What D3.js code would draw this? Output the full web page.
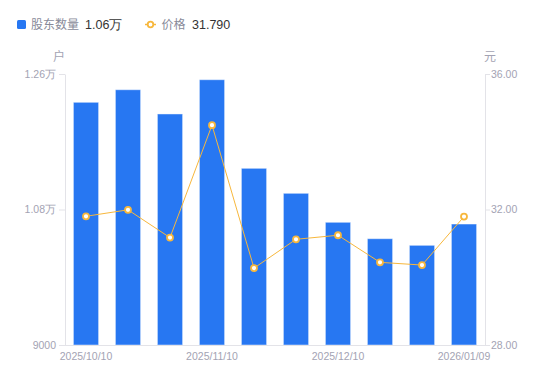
<!DOCTYPE html>
<html><head><meta charset="utf-8">
<script src="https://cdn.jsdelivr.net/npm/d3@7"></script>
<style>body{margin:0;background:#fff;}svg{display:block;font-family:"Noto Sans CJK SC","Liberation Sans",Arial,sans-serif;}</style>
</head><body><svg id="c" width="550" height="381"></svg>
<script>
const categories = ["2025/10/10","2025/10/20","2025/10/31","2025/11/10","2025/11/20","2025/11/28","2025/12/10","2025/12/19","2025/12/31","2026/01/09"];
const holders = [12224,12391,12069,12524,11347,11015,10630,10412,10324,10607];
const prices = [31.80,31.99,31.17,34.49,30.27,31.12,31.24,30.44,30.36,31.79];
const leftTicks = [9000,10800,12600];
const rightTicks = [28,32,36];
const shownLabels = ["2025/10/10","2025/11/10","2025/12/10","2026/01/09"];

const svg = d3.select("#c");
const L=65, R=485, T=74, B=345;
const x = d3.scaleBand().domain(categories).range([L,R]).paddingInner(0.4).paddingOuter(0.2);
const yL = d3.scaleLinear().domain([9000,12600]).range([B,T]);
const yR = d3.scaleLinear().domain([28,36]).range([B,T]);
const axisCol="#e3e3e8", txtCol="#a3a3b3";
const latin = "'Liberation Sans',Arial,sans-serif";

// bars
svg.append("g").selectAll("rect").data(holders).join("rect")
  .attr("x",(d,i)=>x(categories[i])).attr("width",x.bandwidth())
  .attr("y",d=>yL(d)).attr("height",d=>B-yL(d))
  .attr("fill","#2777f2").attr("stroke","rgba(255,255,255,0.45)").attr("stroke-width",1);

// axes
const fmtL = v => v>=10000 ? (v/10000).toFixed(2)+"万" : String(v);
const gL = svg.append("g").attr("transform",`translate(${L},0)`)
  .call(d3.axisLeft(yL).tickValues(leftTicks).tickFormat(fmtL).tickSize(6).tickSizeOuter(0));
const gR = svg.append("g").attr("transform",`translate(${R},0)`)
  .call(d3.axisRight(yR).tickValues(rightTicks).tickFormat(d=>d.toFixed(2)).tickSize(5).tickSizeOuter(0));
const gB = svg.append("g").attr("transform",`translate(0,${B})`)
  .call(d3.axisBottom(x).tickValues(shownLabels).tickSize(0).tickSizeOuter(0));
[gL,gR,gB].forEach(g=>{
  g.selectAll(".domain").attr("stroke",axisCol);
  g.selectAll(".tick line").attr("stroke",axisCol);
  g.selectAll("text").attr("fill",txtCol).attr("font-size",10.5).attr("font-family",latin);
});
gL.selectAll("text").attr("x",-9);
gR.selectAll("text").attr("x",6);
gB.selectAll("text").attr("dy","0.71em").attr("y",8);
gB.selectAll(".domain").attr("d",`M${L},0.5H${R}`);

// unit labels
svg.append("text").attr("x",59).attr("y",61).attr("text-anchor","middle").attr("fill",txtCol).attr("font-size",12).text("户");
svg.append("text").attr("x",490).attr("y",61).attr("text-anchor","middle").attr("fill",txtCol).attr("font-size",12).text("元");

// line
const cx = (i)=>x(categories[i])+x.bandwidth()/2;
svg.append("path").datum(prices)
  .attr("d",d3.line().x((d,i)=>cx(i)).y(d=>yR(d)))
  .attr("fill","none").attr("stroke","#f7b73c").attr("stroke-width",1);
svg.append("g").selectAll("circle").data(prices).join("circle")
  .attr("cx",(d,i)=>cx(i)).attr("cy",d=>yR(d)).attr("r",3)
  .attr("fill","#fff").attr("stroke","#f7b73c").attr("stroke-width",1.8);

// legend
const lg = svg.append("g").attr("font-size",12);
lg.append("rect").attr("x",17).attr("y",20).attr("width",9).attr("height",9).attr("rx",1.5).attr("fill","#2777f2");
lg.append("text").attr("x",31).attr("y",29).attr("fill","#888a99").text("股东数量");
lg.append("text").attr("x",85).attr("y",29).attr("fill","#333").attr("font-family",latin).attr("font-size",12.5).text((holders[holders.length-1]/10000).toFixed(2)+"万");
lg.append("line").attr("x1",145).attr("x2",156).attr("y1",24.5).attr("y2",24.5).attr("stroke","#f7b73c").attr("stroke-width",1.5);
lg.append("circle").attr("cx",150.5).attr("cy",24.5).attr("r",2.8).attr("fill","#fff").attr("stroke","#f7b73c").attr("stroke-width",1.8);
lg.append("text").attr("x",161.5).attr("y",29).attr("fill","#888a99").text("价格");
lg.append("text").attr("x",192).attr("y",29).attr("fill","#333").attr("font-family",latin).attr("font-size",12.5).text(prices[prices.length-1].toFixed(3));
</script></body></html>
